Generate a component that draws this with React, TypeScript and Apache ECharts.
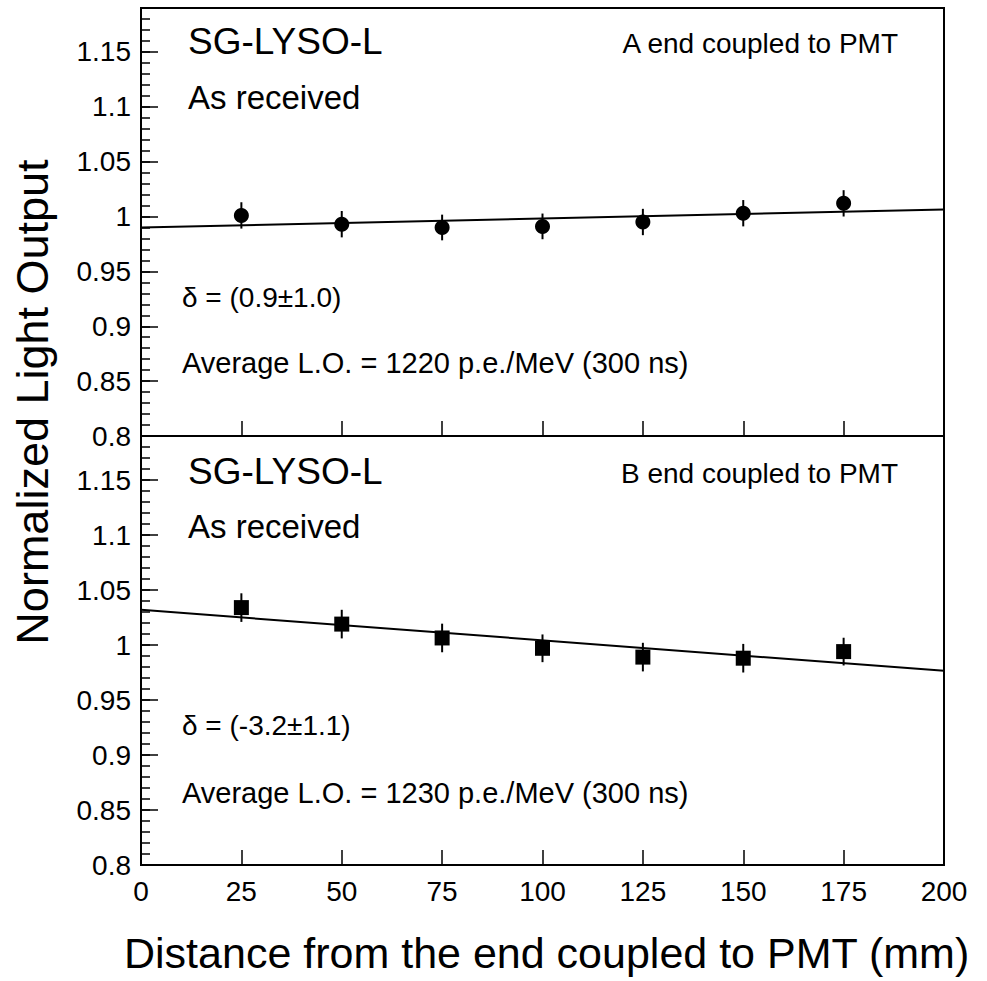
import { useEffect, useRef } from 'react';
import * as echarts from 'echarts';

// ---- data ----
const positions = [25, 50, 75, 100, 125, 150, 175];
const topValues = [1.001, 0.993, 0.990, 0.991, 0.995, 1.003, 1.012];
const topErrors = [0.012, 0.012, 0.0117, 0.0117, 0.012, 0.012, 0.012];
const bottomValues = [1.034, 1.019, 1.0064, 0.997, 0.989, 0.988, 0.994];
const bottomErrors = [0.013, 0.013, 0.013, 0.0126, 0.013, 0.013, 0.0126];
const topFit = [[0, 0.990], [200, 1.0065]];
const bottomFit = [[0, 1.032], [200, 0.9765]];

const xMin = 0;
const xMax = 200;
const xStep = 25;
const yMin = 0.8;
const yMax = 1.19;
const yMajor = 0.05;
const yMinor = 0.01;

const title = 'SG-LYSO-L';
const subtitle = 'As received';
const topCorner = 'A end coupled to PMT';
const bottomCorner = 'B end coupled to PMT';
const topDelta = 'δ = (0.9±1.0)';
const bottomDelta = 'δ = (-3.2±1.1)';
const topAvg = 'Average L.O. = 1220 p.e./MeV (300 ns)';
const bottomAvg = 'Average L.O. = 1230 p.e./MeV (300 ns)';
const xTitle = 'Distance from the end coupled to PMT (mm)';
const yTitle = 'Normalized Light Output';

const FONT = '"Liberation Sans", Arial, Helvetica, sans-serif';

export default function App() {
  const ref = useRef<HTMLDivElement>(null);
  useEffect(() => {
    document.body.style.margin = '0';
    if (!ref.current) return;
    const chart = echarts.init(ref.current, null, { renderer: 'svg' });

    const L = 141, R = 944, T = 8, MID = 436, B = 865;

    const xAxisBase = (gi: number, labels: boolean) => ({
      type: 'value',
      gridIndex: gi,
      min: xMin,
      max: xMax,
      interval: xStep,
      axisLine: { show: true, onZero: false, lineStyle: { color: '#000', width: 2 } },
      axisTick: { show: true, inside: true, length: 15, lineStyle: { color: '#000', width: 1.5 } },
      axisLabel: labels
        ? { show: true, color: '#000', fontSize: 28, fontFamily: FONT, margin: 12 }
        : { show: false },
      splitLine: { show: false },
    });

    const yMinorAxis = (gi: number) => ({
      type: 'value',
      gridIndex: gi,
      min: yMin,
      max: yMax,
      interval: yMinor,
      axisLine: { show: true, onZero: false, lineStyle: { color: '#000', width: 2 } },
      axisTick: { show: true, inside: true, length: 9, lineStyle: { color: '#000', width: 1.5 } },
      axisLabel: { show: false },
      splitLine: { show: false },
    });
    const yMajorAxis = (gi: number) => ({
      type: 'value',
      gridIndex: gi,
      position: 'left',
      min: yMin,
      max: yMax,
      interval: yMajor,
      axisLine: { show: false, onZero: false },
      axisTick: { show: true, inside: true, length: 17, lineStyle: { color: '#000', width: 1.5 } },
      axisLabel: {
        show: true, color: '#000', fontSize: 28, fontFamily: FONT, margin: 10,
        showMaxLabel: false,
        formatter: (v: number) => {
          const k = Math.round((v - yMin) / yMajor);
          if (Math.abs(yMin + k * yMajor - v) > 1e-6) return '';
          return String(parseFloat(v.toFixed(2)));
        },
      },
      splitLine: { show: false },
    });

    const errRender = (params: any, api: any) => {
      const x = api.value(0);
      const y = api.value(1);
      const e = api.value(2);
      const p1 = api.coord([x, y - e]);
      const p2 = api.coord([x, y + e]);
      return {
        type: 'line',
        shape: { x1: p1[0], y1: p1[1], x2: p2[0], y2: p2[1] },
        style: { stroke: '#000', lineWidth: 2 },
      };
    };

    const txt = (text: string, x: number, y: number, size: number, align = 'left', rotation = 0) => ({
      type: 'text',
      x,
      y,
      rotation,
      silent: true,
      style: {
        text,
        fontSize: size,
        fontFamily: FONT,
        fill: '#000',
        align,
        textAlign: align,
        verticalAlign: 'middle',
        textVerticalAlign: 'middle',
      },
    });

    const option: any = {
      animation: false,
      backgroundColor: '#fff',
      grid: [
        { left: L, top: T, width: R - L, height: MID - T, show: true, borderColor: '#000', borderWidth: 2, backgroundColor: 'transparent' },
        { left: L, top: MID, width: R - L, height: B - MID, show: true, borderColor: '#000', borderWidth: 2, backgroundColor: 'transparent' },
      ],
      xAxis: [xAxisBase(0, false), xAxisBase(1, true)],
      yAxis: [yMinorAxis(0), yMajorAxis(0), yMinorAxis(1), yMajorAxis(1)],
      series: [
        {
          type: 'custom', xAxisIndex: 0, yAxisIndex: 0, renderItem: errRender,
          encode: { x: 0, y: 1 },
          data: positions.map((x, i) => [x, topValues[i], topErrors[i]]),
          z: 2,
        },
        {
          type: 'line', xAxisIndex: 0, yAxisIndex: 0, data: topFit, symbol: 'none',
          lineStyle: { color: '#000', width: 2 }, z: 3,
        },
        {
          type: 'scatter', xAxisIndex: 0, yAxisIndex: 0, symbol: 'circle', symbolSize: 15,
          itemStyle: { color: '#000', opacity: 1 },
          data: positions.map((x, i) => [x, topValues[i]]), z: 4,
        },
        {
          type: 'custom', xAxisIndex: 1, yAxisIndex: 2, renderItem: errRender,
          encode: { x: 0, y: 1 },
          data: positions.map((x, i) => [x, bottomValues[i], bottomErrors[i]]),
          z: 2,
        },
        {
          type: 'line', xAxisIndex: 1, yAxisIndex: 2, data: bottomFit, symbol: 'none',
          lineStyle: { color: '#000', width: 2 }, z: 3,
        },
        {
          type: 'scatter', xAxisIndex: 1, yAxisIndex: 2, symbol: 'rect', symbolSize: 15,
          itemStyle: { color: '#000', opacity: 1 },
          data: positions.map((x, i) => [x, bottomValues[i]]), z: 4,
        },
      ],
      graphic: [
        txt(title, 188, 41, 37),
        txt(subtitle, 188, 97, 33),
        txt(topCorner, 898, 43, 28, 'right'),
        txt(topDelta, 182, 297, 28),
        txt(topAvg, 182, 363, 29),
        txt(title, 188, 471, 37),
        txt(subtitle, 188, 526, 33),
        txt(bottomCorner, 898, 473, 28, 'right'),
        txt(bottomDelta, 182, 725, 28),
        txt(bottomAvg, 182, 793, 29),
        txt(xTitle, 124, 953, 43),
        txt(yTitle, 32, 402, 45, 'center', Math.PI / 2),
      ],
    };

    chart.setOption(option);
    return () => chart.dispose();
  }, []);

  return <div ref={ref} style={{ width: 987, height: 981 }} />;
}
